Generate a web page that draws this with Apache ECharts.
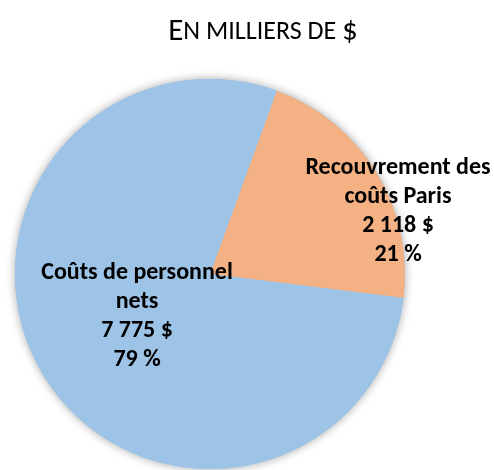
<!DOCTYPE html>
<html>
<head>
<meta charset="utf-8">
<script src="https://cdn.jsdelivr.net/npm/echarts@6/dist/echarts.min.js"></script>
<style>
  html, body { margin: 0; padding: 0; background: #fff; }
  #chart { width: 494px; height: 470px; }
</style>
</head>
<body>
<div id="chart"></div>
<script>
// données (en milliers de $)
const categories = ['Recouvrement des\ncoûts Paris', 'Coûts de personnel\nnets']
const values = [2118, 7775]
const percents = ['21 %', '79 %']
const amounts = ['2 118 $', '7 775 $']
const colors = ['#F4B183', '#9DC3E6']

// position des étiquettes (pixels)
const labelPos = [[398, 211], [137, 316]]

const chart = echarts.init(document.getElementById('chart'))

const fontFamily = 'Carlito, Lato, "Liberation Sans", Arial, sans-serif'
const total = values.reduce((a, b) => a + b, 0)

const option = {
  animation: false,
  title: {
    text: '{big|E}{small|N MILLIERS DE }{big|$}',
    left: 258,
    top: 9,
    textAlign: 'center',
    textStyle: {
      fontSize: 31,
      fontWeight: 'normal',
      fontFamily: fontFamily,
      color: '#000',
      rich: {
        big: { fontSize: 31, lineHeight: 36, fontFamily: fontFamily, color: '#000', fontWeight: 'normal' },
        small: { fontSize: 26, lineHeight: 36, fontFamily: fontFamily, color: '#000', fontWeight: 'normal' },
      },
    },
  },
  series: [
    {
      // ombre extérieure du disque
      type: 'pie',
      silent: true,
      center: [210, 274],
      radius: 195,
      label: { show: false },
      itemStyle: {
        color: '#9DC3E6',
        shadowBlur: 10,
        shadowColor: 'rgba(0, 0, 0, 0.35)',
      },
      data: [{ value: total, name: 'total' }],
      z: 1,
    },
    {
      type: 'pie',
      center: [210, 274],
      radius: 195,
      startAngle: 70,
      clockwise: true,
      z: 2,
      data: categories.map((name, i) => ({
        name: name,
        value: values[i],
        itemStyle: { color: colors[i] },
      })),
      label: {
        show: true,
        position: 'inside',
        formatter: (p) => p.name + '\n' + amounts[p.dataIndex] + '\n' + percents[p.dataIndex],
        fontFamily: fontFamily,
        fontWeight: 'bold',
        fontSize: 24,
        lineHeight: 29,
        color: '#000',
        align: 'center',
      },
      labelLayout: (params) => ({
        x: labelPos[params.dataIndex][0],
        y: labelPos[params.dataIndex][1],
        align: 'center',
        verticalAlign: 'middle',
      }),
      emphasis: { disabled: true },
    },
  ],
}

chart.setOption(option)
</script>
</body>
</html>
